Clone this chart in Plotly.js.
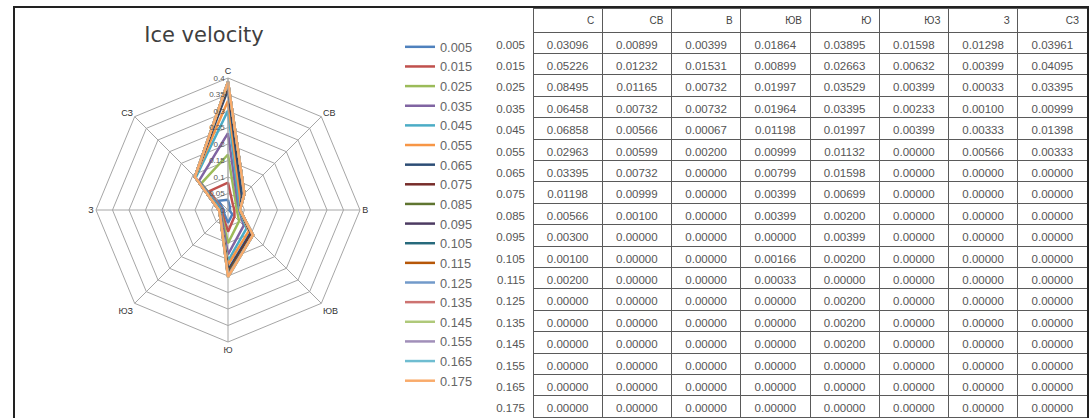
<!DOCTYPE html>
<html>
<head>
<meta charset="utf-8">
<script src="https://cdn.plot.ly/plotly-3.0.1.min.js"></script>
<style>html,body{margin:0;padding:0;background:#fff;}#chart{width:1092px;height:418px;}</style>
</head>
<body>
<div id="chart"></div>
<script>
// Directions (column headers) and speed classes (row labels / series names)
const directions = ['С', 'СВ', 'В', 'ЮВ', 'Ю', 'ЮЗ', 'З', 'СЗ'];
const speeds = [0.005, 0.015, 0.025, 0.035, 0.045, 0.055, 0.065, 0.075, 0.085,
                0.095, 0.105, 0.115, 0.125, 0.135, 0.145, 0.155, 0.165, 0.175];

// Table values per direction (one value per speed class)
const valN  = [0.03096, 0.05226, 0.08495, 0.06458, 0.06858, 0.02963, 0.03395, 0.01198, 0.00566, 0.00300, 0.00100, 0.00200, 0, 0, 0, 0, 0, 0];
const valNE = [0.00899, 0.01232, 0.01165, 0.00732, 0.00566, 0.00599, 0.00732, 0.00999, 0.00100, 0, 0, 0, 0, 0, 0, 0, 0, 0];
const valE  = [0.00399, 0.01531, 0.00732, 0.00732, 0.00067, 0.00200, 0, 0, 0, 0, 0, 0, 0, 0, 0, 0, 0, 0];
const valSE = [0.01864, 0.00899, 0.01997, 0.01964, 0.01198, 0.00999, 0.00799, 0.00399, 0.00399, 0, 0.00166, 0.00033, 0, 0, 0, 0, 0, 0];
const valS  = [0.03895, 0.02663, 0.03529, 0.03395, 0.01997, 0.01132, 0.01598, 0.00699, 0.00200, 0.00399, 0.00200, 0, 0.00200, 0.00200, 0.00200, 0, 0, 0];
const valSW = [0.01598, 0.00632, 0.00399, 0.00233, 0.00399, 0, 0, 0, 0, 0, 0, 0, 0, 0, 0, 0, 0, 0];
const valW  = [0.01298, 0.00399, 0.00033, 0.00100, 0.00333, 0.00566, 0, 0, 0, 0, 0, 0, 0, 0, 0, 0, 0, 0];
const valNW = [0.03961, 0.04095, 0.03395, 0.00999, 0.01398, 0.00333, 0, 0, 0, 0, 0, 0, 0, 0, 0, 0, 0, 0];

const seriesColors = ['#4F81BD', '#C0504D', '#9BBB59', '#8064A2', '#4BACC6', '#F79646',
                      '#2C4D75', '#772C2A', '#5F7530', '#4D3B62', '#276A7C', '#B65708',
                      '#729ACA', '#CD7371', '#AFC97A', '#A18FB9', '#6FBDD1', '#F9AB6B'];

const columns = [valN, valNE, valE, valSE, valS, valSW, valW, valNW];
const W = 1092, H = 418;

// Radar series: running (cumulative) totals over speed classes, per direction
const traces = [];
const running = directions.map(() => 0);
speeds.forEach((s, i) => {
  columns.forEach((col, d) => { running[d] += col[i]; });
  const r = running.slice();
  traces.push({
    type: 'scatterpolar', mode: 'lines',
    name: s.toFixed(3),
    r: r.concat([r[0]]),
    theta: directions.concat([directions[0]]),
    line: {color: seriesColors[i], width: 2.5},
    hoverinfo: 'skip'
  });
});

// Table
const lineCols = ['#ffffff'].concat(directions.map(() => '#5a5a5a'));
traces.push({
  type: 'table',
  domain: {x: [487 / W, 1087 / W], y: [0, 1 - 8 / H]},
  columnwidth: [46].concat(directions.map(() => 69.25)),
  header: {
    values: [''].concat(directions),
    align: 'right',
    height: 24,
    fill: {color: '#ffffff'},
    line: {color: lineCols, width: 1},
    font: {family: 'Liberation Sans, Arial, sans-serif', size: 10, color: '#444'}
  },
  cells: {
    values: [speeds.map(v => v.toFixed(3))].concat(columns.map(c => c.map(v => v.toFixed(5)))),
    align: ['right'].concat(directions.map(() => 'center')),
    height: 21.4,
    fill: {color: '#ffffff'},
    line: {color: lineCols, width: 1},
    font: {family: 'Liberation Sans, Arial, sans-serif', size: 11.5, color: '#555'}
  }
});

const R = 132, cx = 228, cy = 210;
const layout = {
  width: W, height: H,
  margin: {l: 0, r: 0, t: 0, b: 0},
  paper_bgcolor: '#ffffff',
  font: {family: 'Liberation Sans, Arial, sans-serif', color: '#444'},
  title: {
    text: 'Ice velocity',
    x: 204 / W, xanchor: 'center', xref: 'paper',
    y: 1 - 35 / H, yanchor: 'middle', yref: 'paper',
    font: {family: 'DejaVu Sans, sans-serif', size: 21, color: '#3f3f3f'}
  },
  showlegend: true,
  legend: {
    x: 400 / W, xanchor: 'left', y: 1 - 32 / H, yanchor: 'top',
    bgcolor: 'rgba(0,0,0,0)', itemwidth: 30, tracegroupgap: 0,
    font: {family: 'Liberation Sans, Arial, sans-serif', size: 12.8, color: '#666'}
  },
  polar: {
    domain: {x: [(cx - R) / W, (cx + R) / W], y: [1 - (cy + R) / H, 1 - (cy - R) / H]},
    bgcolor: '#ffffff',
    gridshape: 'linear',
    angularaxis: {
      type: 'category', categoryarray: directions,
      rotation: 90, direction: 'clockwise',
      showgrid: true, gridcolor: '#a6a6a6', gridwidth: 1,
      showline: true, linecolor: '#a6a6a6', linewidth: 1,
      ticks: '', tickfont: {size: 9, color: '#333'}
    },
    radialaxis: {
      range: [0, 0.4], tick0: 0, dtick: 0.05, angle: 90, side: 'counterclockwise',
      showline: true, linecolor: '#a6a6a6', gridcolor: '#a6a6a6', gridwidth: 1,
      ticks: '', tickangle: 90, tickfont: {size: 8, color: '#555'}
    }
  },
  shapes: [{
    type: 'rect', xref: 'paper', yref: 'paper',
    x0: 14 / W, x1: 1088 / W, y0: -0.05, y1: 1 - 7 / H,
    line: {color: '#222', width: 2}, fillcolor: 'rgba(0,0,0,0)', layer: 'above'
  }]
};

Plotly.newPlot('chart', traces, layout, {displayModeBar: false, staticPlot: true});
</script>
</body>
</html>
